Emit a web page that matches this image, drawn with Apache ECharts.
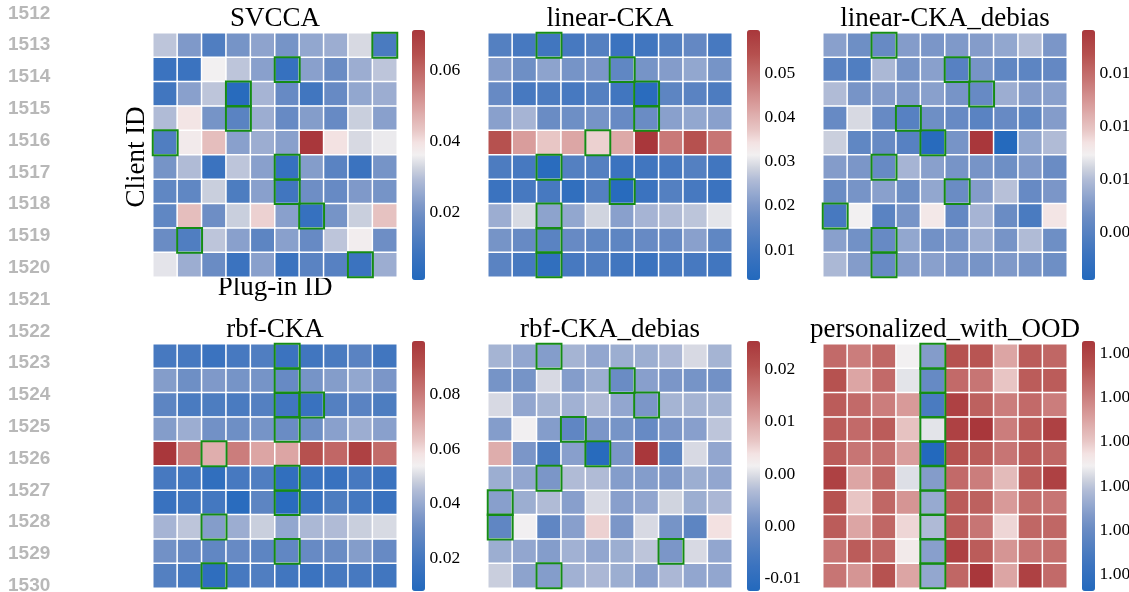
<!DOCTYPE html>
<html><head><meta charset="utf-8">
<script src="https://cdn.jsdelivr.net/npm/echarts@6/dist/echarts.min.js"></script>
<style>html,body{margin:0;padding:0;background:#fff}#c{width:1129px;height:592px}</style>
</head><body><div id="c"></div>
<script>
// ---------- data ----------
const clientIds = ['0','1','2','3','4','5','6','7','8','9'];
const pluginIds = ['0','1','2','3','4','5','6','7','8','9'];
const titles = ['SVCCA','linear-CKA','linear-CKA_debias','rbf-CKA','rbf-CKA_debias','personalized_with_OOD'];
const lineNumbers = ['1512','1513','1514','1515','1516','1517','1518','1519','1520','1521','1522','1523','1524','1525','1526','1527','1528','1529','1530'];

const svcca = [
 [0.0306,0.0222,0.0130,0.0207,0.0243,0.0207,0.0250,0.0264,0.0334,0.0116],
 [0.0081,0.0081,0.0363,0.0306,0.0236,0.0066,0.0236,0.0186,0.0264,0.0306],
 [0.0095,0.0236,0.0306,0.0024,0.0278,0.0179,0.0095,0.0179,0.0250,0.0264],
 [0.0292,0.0391,0.0207,0.0151,0.0264,0.0179,0.0229,0.0179,0.0320,0.0236],
 [0.0130,0.0377,0.0447,0.0236,0.0264,0.0236,0.0715,0.0398,0.0334,0.0355],
 [0.0207,0.0292,0.0081,0.0306,0.0236,0.0066,0.0229,0.0151,0.0081,0.0207],
 [0.0165,0.0165,0.0320,0.0123,0.0236,0.0095,0.0193,0.0179,0.0222,0.0207],
 [0.0165,0.0447,0.0193,0.0320,0.0419,0.0236,0.0066,0.0207,0.0320,0.0440],
 [0.0186,0.0130,0.0306,0.0236,0.0158,0.0236,0.0179,0.0306,0.0370,0.0193],
 [0.0348,0.0264,0.0186,0.0081,0.0236,0.0081,0.0151,0.0144,0.0081,0.0264]
];
const linearCka = [
 [0.0134,0.0111,0.0100,0.0111,0.0134,0.0089,0.0100,0.0134,0.0162,0.0111],
 [0.0207,0.0179,0.0218,0.0190,0.0196,0.0156,0.0190,0.0207,0.0224,0.0190],
 [0.0168,0.0111,0.0122,0.0111,0.0134,0.0100,0.0049,0.0151,0.0145,0.0122],
 [0.0213,0.0247,0.0173,0.0179,0.0190,0.0168,0.0173,0.0213,0.0224,0.0213],
 [0.0541,0.0428,0.0371,0.0416,0.0360,0.0411,0.0597,0.0478,0.0541,0.0484],
 [0.0122,0.0111,0.0049,0.0134,0.0134,0.0089,0.0100,0.0111,0.0134,0.0100],
 [0.0089,0.0111,0.0111,0.0066,0.0134,0.0043,0.0089,0.0134,0.0111,0.0089],
 [0.0235,0.0292,0.0218,0.0224,0.0286,0.0213,0.0247,0.0258,0.0269,0.0303],
 [0.0190,0.0168,0.0145,0.0168,0.0156,0.0151,0.0168,0.0168,0.0213,0.0156],
 [0.0145,0.0111,0.0066,0.0111,0.0128,0.0100,0.0089,0.0111,0.0111,0.0100]
];
const linearCkaDebias = [
 [0.00404,0.00333,0.00309,0.00392,0.00368,0.00380,0.00392,0.00427,0.00498,0.00368],
 [0.00262,0.00227,0.00486,0.00357,0.00404,0.00251,0.00357,0.00286,0.00274,0.00298],
 [0.00498,0.00357,0.00392,0.00380,0.00404,0.00357,0.00309,0.00451,0.00392,0.00404],
 [0.00309,0.00568,0.00309,0.00251,0.00333,0.00309,0.00262,0.00309,0.00286,0.00392],
 [0.00545,0.00286,0.00309,0.00251,0.00051,0.00357,0.01204,0.00039,0.00427,0.00498],
 [0.00392,0.00368,0.00309,0.00474,0.00404,0.00357,0.00357,0.00333,0.00380,0.00321],
 [0.00321,0.00357,0.00404,0.00333,0.00427,0.00321,0.00392,0.00510,0.00309,0.00368],
 [0.00192,0.00616,0.00262,0.00357,0.00651,0.00298,0.00474,0.00321,0.00204,0.00663],
 [0.00404,0.00345,0.00309,0.00427,0.00345,0.00357,0.00451,0.00357,0.00498,0.00333],
 [0.00486,0.00392,0.00309,0.00392,0.00404,0.00368,0.00357,0.00380,0.00357,0.00333]
];
const rbfCka = [
 [0.0210,0.0210,0.0173,0.0210,0.0237,0.0173,0.0191,0.0219,0.0264,0.0191],
 [0.0365,0.0319,0.0356,0.0337,0.0337,0.0301,0.0337,0.0365,0.0392,0.0346],
 [0.0274,0.0219,0.0228,0.0219,0.0246,0.0191,0.0164,0.0246,0.0264,0.0228],
 [0.0365,0.0410,0.0328,0.0319,0.0337,0.0310,0.0319,0.0374,0.0410,0.0374],
 [0.0994,0.0793,0.0684,0.0793,0.0702,0.0702,0.0903,0.0848,0.0958,0.0839],
 [0.0210,0.0201,0.0137,0.0210,0.0237,0.0137,0.0173,0.0164,0.0210,0.0173],
 [0.0164,0.0191,0.0201,0.0109,0.0274,0.0109,0.0164,0.0228,0.0201,0.0164],
 [0.0429,0.0465,0.0365,0.0410,0.0483,0.0392,0.0438,0.0447,0.0483,0.0502],
 [0.0328,0.0301,0.0283,0.0301,0.0274,0.0283,0.0301,0.0310,0.0365,0.0301],
 [0.0246,0.0210,0.0128,0.0210,0.0237,0.0191,0.0173,0.0210,0.0210,0.0191]
];
const rbfCkaDebias = [
 [0.0006,-0.0009,-0.0020,0.0006,-0.0009,-0.0001,-0.0001,0.0010,0.0037,0.0006],
 [-0.0032,-0.0032,0.0037,-0.0020,-0.0001,-0.0043,-0.0017,-0.0028,-0.0032,-0.0036],
 [0.0037,-0.0009,0.0006,0.0003,0.0014,-0.0009,-0.0028,0.0006,0.0006,0.0006],
 [-0.0020,0.0052,-0.0020,-0.0055,-0.0028,-0.0032,-0.0047,-0.0028,-0.0017,0.0022],
 [0.0114,-0.0028,-0.0082,-0.0017,-0.0131,-0.0028,0.0244,-0.0059,0.0037,-0.0009],
 [-0.0001,-0.0009,-0.0028,0.0014,0.0014,-0.0020,-0.0020,-0.0024,-0.0001,-0.0009],
 [-0.0017,-0.0001,0.0014,-0.0017,0.0037,-0.0017,-0.0009,0.0033,-0.0001,0.0010],
 [-0.0055,0.0052,-0.0055,-0.0017,0.0083,-0.0028,0.0037,-0.0032,-0.0059,0.0072],
 [-0.0001,-0.0009,-0.0020,0.0003,-0.0009,-0.0001,0.0022,-0.0028,0.0037,-0.0009],
 [0.0029,-0.0013,-0.0020,0.0003,0.0010,-0.0001,-0.0017,0.0010,-0.0009,-0.0009]
];
const personalizedOod = [
 [1.000093,1.000081,1.000095,1.000018,0.999975,1.000108,1.000106,1.000059,1.000102,1.000095],
 [1.000108,1.000059,1.000093,1.000013,0.999959,1.000093,1.000086,1.000041,1.000102,1.000102],
 [1.000102,1.000093,1.000081,1.000065,0.999939,1.000122,1.000099,1.000081,1.000093,1.000081],
 [1.000102,1.000093,1.000102,1.000043,1.000013,1.000122,1.000131,1.000081,1.000102,1.000122],
 [1.000102,1.000086,1.000090,1.000063,0.999905,1.000108,1.000102,1.000086,1.000102,1.000095],
 [1.000122,1.000059,1.000095,1.000011,0.999975,1.000093,1.000081,1.000047,1.000102,1.000122],
 [1.000108,1.000041,1.000095,1.000068,0.999984,1.000102,1.000099,1.000065,1.000090,1.000086],
 [1.000102,1.000059,1.000095,1.000034,0.999995,1.000102,1.000086,1.000034,1.000095,1.000095],
 [1.000086,1.000102,1.000095,1.000023,0.999977,1.000122,1.000102,1.000068,1.000086,1.000090],
 [1.000086,1.000068,1.000108,1.000059,0.999982,1.000095,1.000131,1.000059,1.000122,1.000093]
];

// highlighted (row, col) cells
const svccaBoxes = [[0,9],[1,5],[2,3],[3,3],[4,0],[5,5],[6,5],[7,6],[8,1],[9,8]];
const linearCkaBoxes = [[0,2],[1,5],[2,6],[3,6],[4,4],[5,2],[6,5],[7,2],[8,2],[9,2]];
const linearCkaDebiasBoxes = [[0,2],[1,5],[2,6],[3,3],[4,4],[5,2],[6,5],[7,0],[8,2],[9,2]];
const rbfCkaBoxes = [[0,5],[1,5],[2,5],[2,6],[3,5],[4,2],[5,5],[6,5],[7,2],[8,5],[9,2]];
const rbfCkaDebiasBoxes = [[0,2],[1,5],[2,6],[3,3],[4,4],[5,2],[6,0],[7,0],[8,7],[9,2]];
const personalizedOodBoxes = [[0,4],[1,4],[2,4],[3,4],[4,4],[5,4],[6,4],[7,4],[8,4],[9,4]];

// colour ranges and colourbar ticks
const svccaRange = [0.001, 0.0715];
const linearCkaRange = [0.0032, 0.0597];
const linearCkaDebiasRange = [0.00027, 0.01204];
const rbfCkaRange = [0.0082, 0.0994];
const rbfCkaDebiasRange = [-0.0139, 0.02438];
const personalizedOodRange = [0.999905, 1.000131];

const svccaTicks = [0.02, 0.04, 0.06];
const svccaTickLabels = ['0.02','0.04','0.06'];
const linearCkaTicks = [0.01, 0.02, 0.03, 0.04, 0.05];
const linearCkaTickLabels = ['0.01','0.02','0.03','0.04','0.05'];
const linearCkaDebiasTicks = [0.0025, 0.005, 0.0075, 0.01];
const linearCkaDebiasTickLabels = ['0.00','0.01','0.01','0.01'];
const rbfCkaTicks = [0.02, 0.04, 0.06, 0.08];
const rbfCkaTickLabels = ['0.02','0.04','0.06','0.08'];
const rbfCkaDebiasTicks = [-0.012, -0.004, 0.004, 0.012, 0.02];
const rbfCkaDebiasTickLabels = ['-0.01','0.00','0.00','0.01','0.02'];
const personalizedOodTicks = [0.99992, 0.99996, 1.0, 1.00004, 1.00008, 1.00012];
const personalizedOodTickLabels = ['1.00','1.00','1.00','1.00','1.00','1.00'];

// ---------- style / layout ----------
const vlag = ['#2369bd','#2f6ebe','#3b73bf','#4a7bc0','#5a83c2','#6a8cc4','#7f99c9','#97aad0','#b0bbd6','#d0d4df',
  '#f2f0f1','#f3e2e2','#e8c6c5','#e0b2b1','#d99d9c','#d08988','#c77574','#bf6462','#b6514f','#af4445','#a9373b'];
const SERIF = 'Liberation Serif';
const heatLeft = [153, 488, 823], heatTop = [33, 344], heatSize = 244;
const cbLeft = [412, 747, 1082], cbTop = [30, 341], cbW = 13, cbH = 250;

const panels = [
  {data: svcca, boxes: svccaBoxes, range: svccaRange, ticks: svccaTicks, labels: svccaTickLabels},
  {data: linearCka, boxes: linearCkaBoxes, range: linearCkaRange, ticks: linearCkaTicks, labels: linearCkaTickLabels},
  {data: linearCkaDebias, boxes: linearCkaDebiasBoxes, range: linearCkaDebiasRange, ticks: linearCkaDebiasTicks, labels: linearCkaDebiasTickLabels},
  {data: rbfCka, boxes: rbfCkaBoxes, range: rbfCkaRange, ticks: rbfCkaTicks, labels: rbfCkaTickLabels},
  {data: rbfCkaDebias, boxes: rbfCkaDebiasBoxes, range: rbfCkaDebiasRange, ticks: rbfCkaDebiasTicks, labels: rbfCkaDebiasTickLabels},
  {data: personalizedOod, boxes: personalizedOodBoxes, range: personalizedOodRange, ticks: personalizedOodTicks, labels: personalizedOodTickLabels}
];

const grid = [], xAxis = [], yAxis = [], series = [], visualMap = [], graphic = [];
const boxSeriesIdx = [];
panels.forEach((p, i) => {
  const col = i % 3, row = Math.floor(i / 3);
  const g = grid.length;
  grid.push({left: heatLeft[col], top: heatTop[row], width: heatSize, height: heatSize});
  grid.push({left: cbLeft[col], top: cbTop[row], width: cbW, height: cbH});
  xAxis.push({type: 'category', data: pluginIds, gridIndex: g, show: false});
  yAxis.push({type: 'category', data: clientIds, gridIndex: g, inverse: true, show: false});
  xAxis.push({type: 'value', gridIndex: g + 1, show: false, min: 0, max: 1});
  yAxis.push({
    type: 'value', gridIndex: g + 1, position: 'right', min: p.range[0], max: p.range[1],
    axisLine: {show: false}, splitLine: {show: false},
    axisTick: {show: true, length: 3.5, customValues: p.ticks, lineStyle: {color: '#000', width: 0.8}},
    axisLabel: {show: false}
  });
  const cells = [];
  p.data.forEach((r, ri) => r.forEach((v, ci) => cells.push([ci, ri, v])));
  const mainIdx = series.length;
  series.push({
    type: 'heatmap', xAxisIndex: g, yAxisIndex: g, data: cells,
    itemStyle: {borderColor: '#ffffff', borderWidth: 1.5},
    emphasis: {disabled: true}, silent: true
  });
  boxSeriesIdx.push(series.length);
  series.push({
    type: 'heatmap', xAxisIndex: g, yAxisIndex: g, z: 5,
    data: p.boxes.map(([r, c]) => [c, r, 0]),
    itemStyle: {color: 'rgba(0,0,0,0)', borderColor: '#158c15', borderWidth: 2},
    emphasis: {disabled: true}, silent: true
  });
  series.push({type: 'line', xAxisIndex: g + 1, yAxisIndex: g + 1, data: [], silent: true});
  visualMap.push({
    type: 'continuous', seriesIndex: mainIdx, min: p.range[0], max: p.range[1],
    inRange: {color: vlag}, orient: 'vertical', left: cbLeft[col], top: cbTop[row],
    itemWidth: cbW, itemHeight: cbH, calculable: false, padding: 0, text: null,
    showLabel: false, hoverLink: false
  });
  graphic.push({
    type: 'text', x: heatLeft[col] + heatSize / 2, y: row === 0 ? 19 : 330, silent: true,
    style: {text: titles[i], fontFamily: SERIF, fontSize: 27, fill: '#000', align: 'center', verticalAlign: 'middle'}
  });
});
visualMap.push({
  type: 'continuous', show: false, seriesIndex: boxSeriesIdx, min: 0, max: 1,
  inRange: {color: ['rgba(0,0,0,0)', 'rgba(0,0,0,0)']}
});

graphic.push({
  type: 'text', x: 137, y: 157, rotation: Math.PI / 2, silent: true,
  style: {text: 'Client ID', fontFamily: SERIF, fontSize: 27, fill: '#000', align: 'center', verticalAlign: 'middle'}
});
graphic.push({
  type: 'text', x: 275, y: 288, silent: true,
  style: {text: 'Plug-in ID', fontFamily: SERIF, fontSize: 27, fill: '#000', align: 'center', verticalAlign: 'middle'}
});
lineNumbers.forEach((t, k) => {
  graphic.push({
    type: 'text', x: 8, y: 13.3 + 31.8 * k, silent: true,
    style: {text: t, fontFamily: 'Liberation Sans', fontWeight: 'bold', fontSize: 19,
      fill: '#b8b8b8', align: 'left', verticalAlign: 'middle'}
  });
});

const chart = echarts.init(document.getElementById('c'), null, {renderer: 'canvas'});
chart.setOption({
  animation: false,
  textStyle: {fontFamily: SERIF, color: '#000'},
  grid, xAxis, yAxis, series, visualMap, graphic
});

// colourbar tick labels, placed through each colourbar axis scale
const tickTexts = [];
panels.forEach((p, i) => {
  const col = i % 3;
  p.ticks.forEach((t, k) => {
    const py = chart.convertToPixel({yAxisIndex: 2 * i + 1}, t);
    tickTexts.push({
      type: 'text', x: cbLeft[col] + cbW + 4.5, y: py, silent: true,
      style: {text: p.labels[k], fontFamily: SERIF, fontSize: 17.5, fill: '#000', align: 'left', verticalAlign: 'middle'}
    });
  });
});
chart.setOption({graphic: graphic.concat(tickTexts)});
</script>
</body></html>
